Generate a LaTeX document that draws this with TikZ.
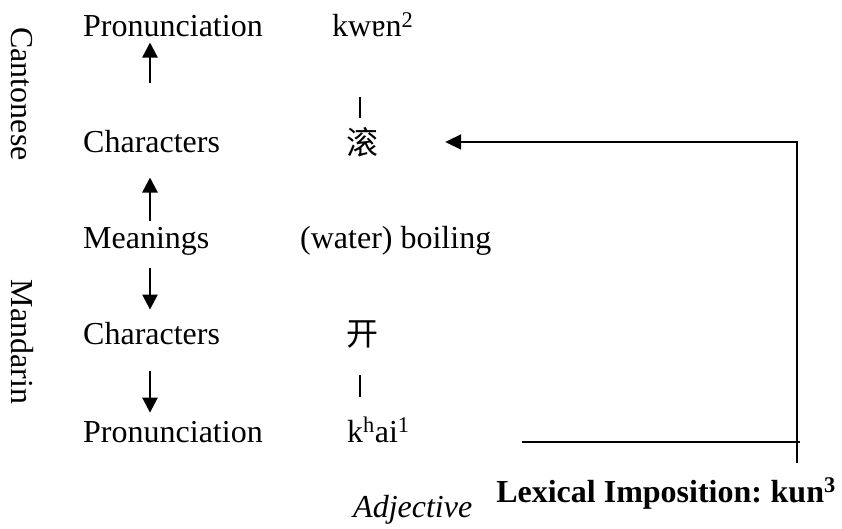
\documentclass[tikz,border=0pt]{standalone}
\usepackage{fontspec}
\setmainfont{Liberation Serif}
\newfontfamily\cjk{Noto Sans CJK SC}
\usetikzlibrary{arrows.meta}

\begin{document}
\begin{tikzpicture}[x=1pt,y=-1pt,
  every node/.style={inner sep=0pt, font=\fontsize{32}{38}\selectfont},
  row/.style={anchor=base west},
  hanzi/.style={anchor=center, font=\fontsize{32}{38}\selectfont\cjk},
  flow/.style={line width=2.5pt, -{Triangle[length=15pt,width=15pt]}},
  link/.style={line width=2pt}]
%----------------------------------------------------------
	% Frame
	%------------------------------------------------------
	\useasboundingbox (0,0) rectangle (842,529);

	% Side labels
	%------------------------------------------------------
	\node[rotate=-90] (Canto) at (22,94) {Cantonese};
	\node[rotate=-90] (Mand) at (22,342) {Mandarin};

	% Levels
	%------------------------------------------------------
	\node[row] (PronC) at (83,37) {Pronunciation};
	\node[row] (CharC) at (83,153) {Characters};
	\node[row] (Mean) at (83,248) {Meanings};
	\node[row] (CharM) at (83,344) {Characters};
	\node[row] (PronM) at (83,442) {Pronunciation};

	% Forms
	%------------------------------------------------------
	\node[row] (KwenC) at (332,37) {kwɐn\textsuperscript{2}};
	\node[hanzi] (GunC) at (362,142) {滚};
	\node[row] (Boil) at (300,248) {(water) boiling};
	\node[hanzi] (KaiM) at (362,334) {开};
	\node[row] (KhaiM) at (347,442) {k\textsuperscript{h}ai\textsuperscript{1}};

	\node[anchor=base east] (Lex) at (836,502) {\bfseries Lexical Imposition:\kern-2pt{} kun\textsuperscript{3}};
	\node[row] (Adj) at (353,517) {\itshape Adjective};

	\coordinate[] (ArrX) at (150,0);
	\coordinate[] (TickCTop) at (360,97);
	\coordinate[] (TickCBot) at (360,118);
	\coordinate[] (TickMTop) at (360,375);
	\coordinate[] (TickMBot) at (360,397);
	\coordinate[] (LexTop) at (797,463);
	\coordinate[] (LineL) at (522,442);
	\coordinate[] (LineR) at (800,442);

	% Arrows
	%------------------------------------------------------
	\draw[flow, shorten <=48pt, shorten >=5pt] (CharC.north -| ArrX) -- (PronC.south -| ArrX);
	\draw[flow, shorten <=6pt, shorten >=24pt] (Mean.north -| ArrX) -- (CharC.south -| ArrX);
	\draw[flow, shorten <=13pt, shorten >=12pt] (Mean.south -| ArrX) -- (CharM.north -| ArrX);
	\draw[flow, shorten <=26pt, shorten >=8pt] (CharM.south -| ArrX) -- (PronM.north -| ArrX);

	% Lines
	%------------------------------------------------------
	\draw[link] (TickCTop) -- (TickCBot);
	\draw[link] (TickMTop) -- (TickMBot);
	\draw[link, -{Triangle[length=16pt,width=15pt]}, shorten >=67pt] (LexTop) |- (GunC.east);
	\draw[link] (LineL) -- (LineR);

\end{tikzpicture}
\end{document}
